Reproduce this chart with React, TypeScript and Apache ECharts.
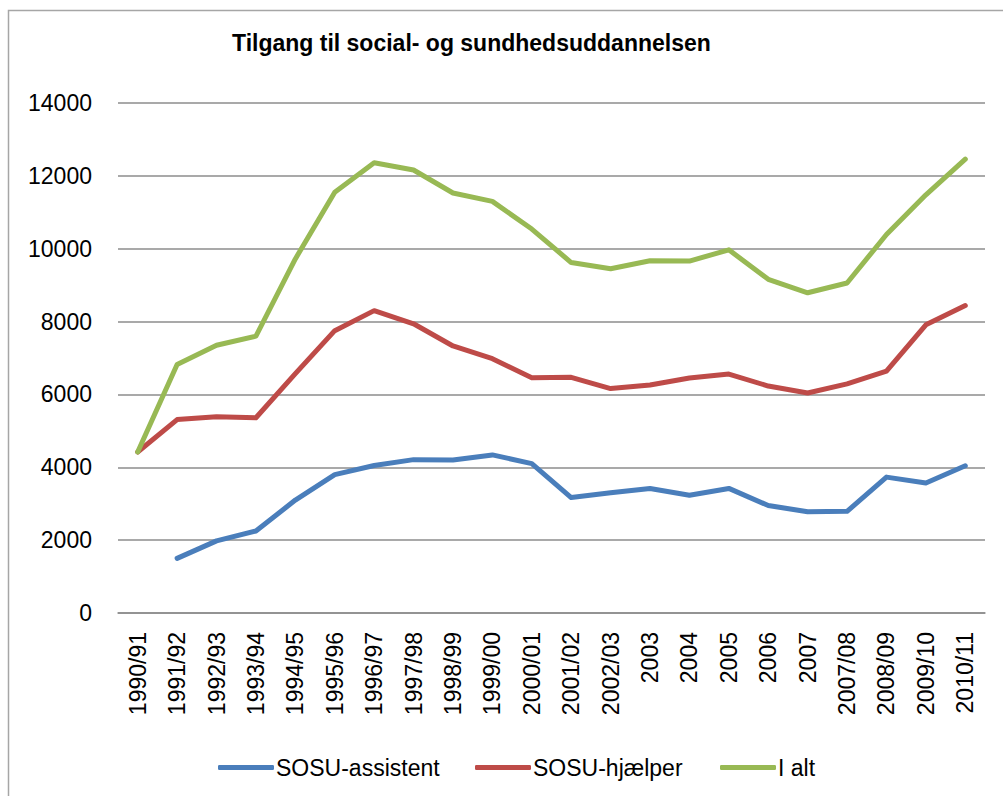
import React, { useEffect, useRef } from "react";
import * as echarts from "echarts";

const categories = [
  "1990/91", "1991/92", "1992/93", "1993/94", "1994/95", "1995/96", "1996/97",
  "1997/98", "1998/99", "1999/00", "2000/01", "2001/02", "2002/03", "2003",
  "2004", "2005", "2006", "2007", "2007/08", "2008/09", "2009/10", "2010/11",
];

const sosuAssistent: (number | null)[] = [
  null, 1500, 1980, 2250, 3100, 3800, 4050, 4210, 4200, 4340, 4100,
  3170, 3300, 3420, 3230, 3420, 2950, 2780, 2790, 3730, 3570, 4040,
];

const sosuHjaelper = [
  4420, 5310, 5390, 5360, 6570, 7750, 8300, 7940, 7330, 6980, 6460,
  6470, 6160, 6260, 6450, 6560, 6230, 6040, 6290, 6640, 7910, 8440,
];

const iAlt = [
  4420, 6820, 7350, 7600, 9720, 11550, 12360, 12160, 11530, 11300, 10540,
  9620, 9450, 9670, 9660, 9970, 9160, 8790, 9060, 10390, 11480, 12460,
];

const seriesNames = ["SOSU-assistent", "SOSU-hjælper", "I alt"];

const yTicks = { min: 0, max: 14000, interval: 2000 };

const FONT = "'Liberation Sans', Arial, sans-serif";

export default function App() {
  const ref = useRef<HTMLDivElement>(null);

  useEffect(() => {
    if (!ref.current) return;
    const chart = echarts.init(ref.current, undefined, { renderer: "svg" });
    const lineSeries = (name: string, data: (number | null)[], color: string) => ({
      name,
      type: "line",
      data,
      showSymbol: false,
      symbol: "none",
      smooth: false,
      connectNulls: false,
      lineStyle: { color, width: 5, cap: "round", join: "round" },
      itemStyle: { color },
    });
    const legendLefts = [218, 475, 720];
    chart.setOption({
      animation: false,
      backgroundColor: "#ffffff",
      title: {
        text: "Tilgang til social- og sundhedsuddannelsen",
        left: 227,
        top: 26,
        textStyle: { fontFamily: FONT, fontSize: 23, fontWeight: "bold", color: "#000" },
      },
      graphic: [
        {
          type: "rect",
          shape: { x: 8.5, y: 10.5, width: 1100, height: 900 },
          style: { fill: "none", stroke: "#a6a6a6", lineWidth: 1.5 },
          silent: true,
        },
      ],
      legend: seriesNames.map((n, i) => ({
        top: 756,
        left: legendLefts[i],
        itemWidth: 56,
        itemHeight: 5,
        icon: "roundRect",
        padding: 0,
        textStyle: { fontFamily: FONT, fontSize: 23, color: "#000", padding: [0, 0, 0, -3] },
        data: [n],
      })),
      grid: { left: 118, right: 18, top: 103, bottom: 183, containLabel: false },
      xAxis: {
        type: "category",
        data: categories,
        boundaryGap: true,
        axisLine: { show: true, lineStyle: { color: "#8c8c8c", width: 1.5 } },
        axisTick: { show: false },
        axisLabel: {
          rotate: 90,
          interval: 0,
          margin: 19,
          fontFamily: FONT,
          fontSize: 23,
          color: "#000",
        },
      },
      yAxis: {
        type: "value",
        min: yTicks.min,
        max: yTicks.max,
        interval: yTicks.interval,
        axisLine: { show: false },
        axisTick: { show: false },
        splitLine: { show: true, lineStyle: { color: "#8c8c8c", width: 1.5 } },
        axisLabel: {
          margin: 26,
          fontFamily: FONT,
          fontSize: 23,
          color: "#000",
          formatter: (v: number) => String(v),
        },
      },
      series: [
        lineSeries(seriesNames[0], sosuAssistent, "#4a7ebb"),
        lineSeries(seriesNames[1], sosuHjaelper, "#be4b48"),
        lineSeries(seriesNames[2], iAlt, "#98b954"),
      ],
    });
    return () => chart.dispose();
  }, []);

  return (
    <div
      ref={ref}
      style={{ position: "fixed", left: 0, top: 0, width: 1003, height: 796, background: "#fff" }}
    />
  );
}
